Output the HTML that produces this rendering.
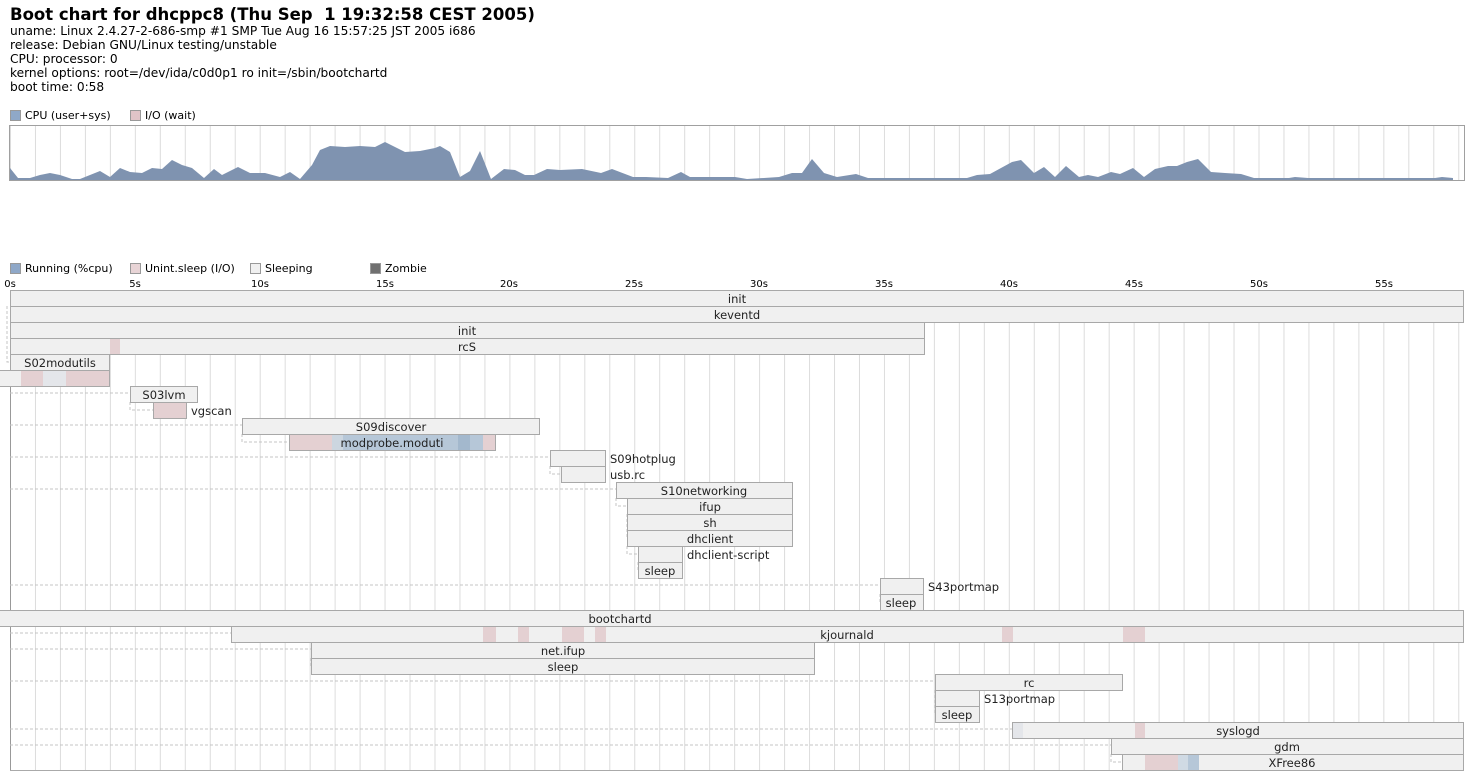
<!DOCTYPE html>
<html><head><meta charset="utf-8"><style>
html,body{margin:0;padding:0;background:#fff;}
svg{display:block;font-family:"DejaVu Sans","Liberation Sans",sans-serif;}
</style></head><body>
<svg width="1474" height="780" viewBox="0 0 1474 780" xmlns="http://www.w3.org/2000/svg">
<defs>
<pattern id="g" x="10" y="0" width="24.97" height="10" patternUnits="userSpaceOnUse">
<line x1="0.5" y1="0" x2="0.5" y2="10" stroke="#dcdcdc" stroke-width="1"/>
</pattern>
</defs>
<text x="10" y="20" font-size="16.5" font-weight="bold" fill="#000" xml:space="preserve" style="white-space:pre">Boot chart for dhcppc8 (Thu Sep  1 19:32:58 CEST 2005)</text>
<g font-size="12.2" fill="#000">
<text x="10" y="35">uname: Linux 2.4.27-2-686-smp #1 SMP Tue Aug 16 15:57:25 JST 2005 i686</text>
<text x="10" y="49">release: Debian GNU/Linux testing/unstable</text>
<text x="10" y="63">CPU: processor: 0</text>
<text x="10" y="77">kernel options: root=/dev/ida/c0d0p1 ro init=/sbin/bootchartd</text>
<text x="10" y="91">boot time: 0:58</text>
</g>
<!-- CPU legend -->
<rect x="10.5" y="110.5" width="10" height="10" fill="#8fa8c8" stroke="#999"/>
<text x="25" y="119" font-size="11">CPU (user+sys)</text>
<rect x="130.5" y="110.5" width="10" height="10" fill="#e0c4c8" stroke="#999"/>
<text x="145" y="119" font-size="11">I/O (wait)</text>
<!-- CPU chart -->
<rect x="10" y="126" width="1454" height="54" fill="url(#g)"/>
<polygon fill="#7f93b0" points="10,180 10,168 18,178 30,178 40,175 50,173 60,175 72,179 80,179 90,175 100,171 110,177 120,168 130,172 142,173 152,168 162,169 172,160 182,165 192,168 204,178 214,169 222,175 238,167 250,173 265,173 280,177 290,172 300,179 312,165 320,150 330,146 345,147 360,146 375,147 385,142 405,152 420,151 435,148 440,146 450,152 460,177 470,171 480,151 491,179 504,169 515,170 525,175 534,175 547,169 560,170 582,169 601,173 612,169 633,177 646,177 668,178 681,172 690,177 716,177 735,177 747,179 779,177 792,173 802,173 812,159 824,173 837,177 856,174 868,178 913,178 926,178 967,178 977,175 990,174 1012,162 1021,160 1034,173 1044,167 1055,177 1066,166 1079,177 1088,175 1098,177 1111,172 1120,174 1133,168 1144,177 1155,169 1168,166 1177,166 1187,162 1198,159 1211,172 1225,173 1241,174 1254,178 1289,178 1295,177 1308,178 1435,178 1442,177 1453,178 1453,180"/>
<rect x="9.5" y="125.5" width="1455" height="55" fill="none" stroke="#a0a0a0"/>
<!-- process legend -->
<g font-size="11">
<rect x="10.5" y="263.5" width="10" height="10" fill="#8fa8c8" stroke="#999"/>
<text x="25" y="272">Running (%cpu)</text>
<rect x="130.5" y="263.5" width="10" height="10" fill="#e8d4d6" stroke="#999"/>
<text x="145" y="272">Unint.sleep (I/O)</text>
<rect x="250.5" y="263.5" width="10" height="10" fill="#f0f0f0" stroke="#999"/>
<text x="265" y="272">Sleeping</text>
<rect x="370.5" y="263.5" width="10" height="10" fill="#707070" stroke="#999"/>
<text x="385" y="272">Zombie</text>
</g>
<g font-size="10" text-anchor="middle" fill="#000">
<text x="10" y="287">0s</text><text x="135" y="287">5s</text><text x="260" y="287">10s</text><text x="385" y="287">15s</text><text x="509" y="287">20s</text><text x="634" y="287">25s</text><text x="759" y="287">30s</text><text x="884" y="287">35s</text><text x="1009" y="287">40s</text><text x="1134" y="287">45s</text><text x="1259" y="287">50s</text><text x="1384" y="287">55s</text>
</g>
<rect x="10" y="290" width="1454" height="480" fill="url(#g)"/>
<line x1="10.5" y1="290" x2="10.5" y2="770" stroke="#999"/>
<line x1="10" y1="770.5" x2="1464" y2="770.5" stroke="#aaa"/>
<!-- dashed connectors -->
<g stroke="#c4c4c4" stroke-dasharray="3,2" fill="none">
<path d="M7,306V362H10M7,370V377H0"/>
<path d="M10,393H130M130,402V410H153"/>
<path d="M10,425H242M242,434V442H289"/>
<path d="M10,457H550M550,466V474H561"/>
<path d="M10,489H616M616,498V506H627M627,514V538M627,546V554H638M638,562V570"/>
<path d="M10,585H880M880,594V602"/>
<path d="M10,633H231"/>
<path d="M10,649H311M311,658V666"/>
<path d="M10,681H935M935,690V714"/>
<path d="M10,729H1012M10,745H1111M1111,754V762H1122"/>
</g>
<!-- process bars -->
<g stroke="#a8a8a8" fill="#f0f0f0">
<rect x="10.5" y="290.5" width="1453" height="16"/>
<rect x="10.5" y="306.5" width="1453" height="16"/>
<rect x="10.5" y="322.5" width="914" height="16"/>
<rect x="10.5" y="338.5" width="914" height="16"/>
<rect x="10.5" y="354.5" width="99" height="16"/>
<rect x="-1" y="370.5" width="110.5" height="16"/>
<rect x="130.5" y="386.5" width="67" height="16"/>
<rect x="153.5" y="402.5" width="33" height="16" fill="#e4d0d2"/>
<rect x="242.5" y="418.5" width="297" height="16"/>
<rect x="289.5" y="434.5" width="206" height="16"/>
<rect x="550.5" y="450.5" width="55" height="16"/>
<rect x="561.5" y="466.5" width="44" height="16"/>
<rect x="616.5" y="482.5" width="176" height="16"/>
<rect x="627.5" y="498.5" width="165" height="16"/>
<rect x="627.5" y="514.5" width="165" height="16"/>
<rect x="627.5" y="530.5" width="165" height="16"/>
<rect x="638.5" y="546.5" width="44" height="16"/>
<rect x="638.5" y="562.5" width="44" height="16"/>
<rect x="880.5" y="578.5" width="43" height="16"/>
<rect x="880.5" y="594.5" width="43" height="16"/>
<rect x="-1" y="610.5" width="1464.5" height="16"/>
<rect x="231.5" y="626.5" width="1232" height="16"/>
<rect x="311.5" y="642.5" width="503" height="16"/>
<rect x="311.5" y="658.5" width="503" height="16"/>
<rect x="935.5" y="674.5" width="187" height="16"/>
<rect x="935.5" y="690.5" width="44" height="16"/>
<rect x="935.5" y="706.5" width="44" height="16"/>
<rect x="1012.5" y="722.5" width="451" height="16"/>
<rect x="1111.5" y="738.5" width="352" height="16"/>
<rect x="1122.5" y="754.5" width="341" height="16"/>
</g>
<!-- state fills -->
<g stroke="none">
<rect x="110" y="339" width="10" height="15" fill="#e4d0d2"/>
<rect x="21" y="371" width="22" height="15" fill="#e4d0d2"/>
<rect x="43" y="371" width="23" height="15" fill="#e4e6ea"/>
<rect x="66" y="371" width="43" height="15" fill="#e4d0d2"/>
<rect x="290" y="435" width="42" height="15" fill="#e4d0d2"/>
<rect x="332" y="435" width="11" height="15" fill="#ccd6e0"/>
<rect x="343" y="435" width="115" height="15" fill="#b6c7d8"/>
<rect x="458" y="435" width="12" height="15" fill="#a3b8cd"/>
<rect x="470" y="435" width="13" height="15" fill="#b6c7d8"/>
<rect x="483" y="435" width="12" height="15" fill="#e4d0d2"/>
<rect x="483" y="627" width="13" height="15" fill="#e4d0d2"/>
<rect x="518" y="627" width="11" height="15" fill="#e4d0d2"/>
<rect x="562" y="627" width="22" height="15" fill="#e4d0d2"/>
<rect x="595" y="627" width="11" height="15" fill="#e4d0d2"/>
<rect x="1002" y="627" width="11" height="15" fill="#e4d0d2"/>
<rect x="1123" y="627" width="22" height="15" fill="#e4d0d2"/>
<rect x="1013" y="723" width="10" height="15" fill="#e4e6ea"/>
<rect x="1135" y="723" width="10" height="15" fill="#e4d0d2"/>
<rect x="1145" y="755" width="33" height="15" fill="#e4d0d2"/>
<rect x="1178" y="755" width="10" height="15" fill="#d0dae4"/>
<rect x="1188" y="755" width="11" height="15" fill="#b6c7d8"/>
</g>
<!-- labels -->
<g font-size="11.5" fill="#222" text-anchor="middle">
<text x="737" y="303">init</text>
<text x="737" y="319">keventd</text>
<text x="467" y="335">init</text>
<text x="467" y="351">rcS</text>
<text x="60" y="367">S02modutils</text>
<text x="164" y="399">S03lvm</text>
<text x="391" y="431">S09discover</text>
<text x="392" y="447">modprobe.moduti</text>
<text x="704" y="495">S10networking</text>
<text x="710" y="511">ifup</text>
<text x="710" y="527">sh</text>
<text x="710" y="543">dhclient</text>
<text x="660" y="575">sleep</text>
<text x="901" y="607">sleep</text>
<text x="620" y="623">bootchartd</text>
<text x="847" y="639">kjournald</text>
<text x="563" y="655">net.ifup</text>
<text x="563" y="671">sleep</text>
<text x="1029" y="687">rc</text>
<text x="957" y="719">sleep</text>
<text x="1238" y="735">syslogd</text>
<text x="1287" y="751">gdm</text>
<text x="1292" y="767">XFree86</text>
</g>
<g font-size="11.5" fill="#222">
<text x="191" y="415">vgscan</text>
<text x="610" y="463">S09hotplug</text>
<text x="610" y="479">usb.rc</text>
<text x="687" y="559">dhclient-script</text>
<text x="928" y="591">S43portmap</text>
<text x="984" y="703">S13portmap</text>
</g>
</svg>
</body></html>
